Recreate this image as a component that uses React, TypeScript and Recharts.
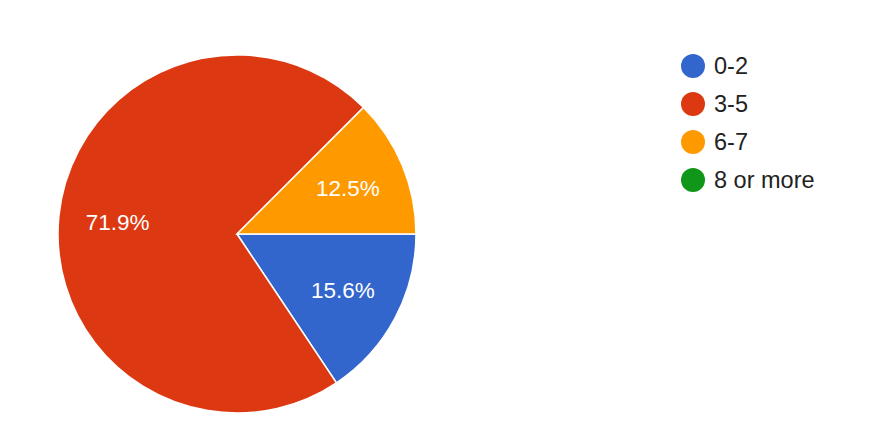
import React from "react";
import { PieChart, Pie, Cell } from "recharts";

const categories = ["0-2", "3-5", "6-7", "8 or more"];
const counts = [5, 23, 4, 0];
const colors = ["#3366cc", "#dc3912", "#ff9900", "#109618"];

const data = categories.map((name, i) => ({ name, value: counts[i] }));
const total = counts.reduce((a, b) => a + b, 0);

const RAD = Math.PI / 180;
const FONT = "'Liberation Sans', Arial, sans-serif";

const renderLabel = (props: any) => {
  const { cx, cy, midAngle, value } = props;
  if (!value) return null;
  const r = 120;
  const x = cx + r * Math.cos(-midAngle * RAD);
  const y = cy + r * Math.sin(-midAngle * RAD);
  return (
    <text
      x={x}
      y={y}
      fill="#ffffff"
      textAnchor="middle"
      dominantBaseline="central"
      fontFamily={FONT}
      fontSize={22.5}
    >
      {((value / total) * 100).toFixed(1) + "%"}
    </text>
  );
};

export default function App() {
  return (
    <div style={{ position: "absolute", left: 0, top: 0, width: 890, height: 436, background: "#fff" }}>
      <PieChart width={890} height={436} margin={{ top: 0, right: 0, bottom: 0, left: 0 }}>
        <Pie
          data={data}
          dataKey="value"
          nameKey="name"
          cx={237}
          cy={234}
          outerRadius={179}
          startAngle={0}
          endAngle={-360}
          stroke="#ffffff"
          strokeWidth={1.5}
          label={renderLabel}
          labelLine={false}
          isAnimationActive={false}
        >
          {data.map((d, i) => (
            <Cell key={d.name} fill={colors[i]} />
          ))}
        </Pie>
      </PieChart>
      <div style={{ position: "absolute", left: 681, top: 47, fontFamily: FONT }}>
        {categories.map((c, i) => (
          <div key={c} style={{ display: "flex", alignItems: "center", height: 38 }}>
            <svg width={24} height={24} style={{ marginRight: 9 }}>
              <circle cx={12} cy={12} r={12} fill={colors[i]} />
            </svg>
            <span style={{ fontSize: 23.5, color: "#222222" }}>{c}</span>
          </div>
        ))}
      </div>
    </div>
  );
}
